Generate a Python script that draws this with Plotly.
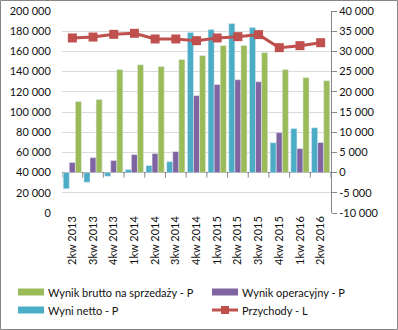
import plotly.graph_objects as go

categories = ["2kw 2013", "3kw 2013", "4kw 2013", "1kw 2014", "2kw 2014", "3kw 2014",
              "4kw 2014", "1kw 2015", "2kw 2015", "3kw 2015", "4kw 2015", "1kw 2016", "2kw 2016"]
netto = [-4000, -2400, -900, 750, 1750, 2700, 34700, 35400, 36900, 35900, 7400, 10900, 11100]
operacyjny = [2500, 3700, 3000, 4450, 4700, 5200, 19050, 21800, 23000, 22500, 9900, 5950, 7450]
brutto = [17600, 18100, 25500, 26700, 26250, 28000, 28950, 31450, 31450, 29700, 25500, 23500, 22750]
przychody = [173300, 174200, 176900, 177900, 172300, 172300, 170600, 173300, 174600, 176600, 163700, 165700, 168600]

series_names = ["Wynik brutto na sprzedaży - P", "Wynik operacyjny - P", "Wyni netto - P", "Przychody - L"]

left_ticks = list(range(0, 200001, 20000))
right_ticks = list(range(-10000, 40001, 5000))


def fmt(v):
    s = f"{abs(v):,}".replace(",", " ")
    return ("-" if v < 0 else "") + s


FONT = "Lato"
TXT = "#111111"
C_GREEN, C_PURPLE, C_CYAN, C_RED = "#9BBB59", "#8064A2", "#4BACC6", "#C0504D"

L, R, T, B = 62, 67, 11, 117
W, H = 398, 330
pw, ph = W - L - R, H - T - B


def px_x(p):
    return (p - L) / pw


def px_y(p):
    return (H - B - p) / ph


fig = go.Figure()
fig.add_trace(go.Bar(x=categories, y=netto, name=series_names[2], marker_color=C_CYAN, yaxis="y"))
fig.add_trace(go.Bar(x=categories, y=operacyjny, name=series_names[1], marker_color=C_PURPLE, yaxis="y"))
fig.add_trace(go.Bar(x=categories, y=brutto, name=series_names[0], marker_color=C_GREEN, yaxis="y"))
fig.add_trace(go.Scatter(x=categories, y=przychody, name=series_names[3], yaxis="y2",
                         mode="lines+markers", line=dict(color=C_RED, width=3),
                         marker=dict(symbol="square", size=9, color=C_RED)))

shapes = []
annotations = []
for i in range(len(categories) + 1):
    shapes.append(dict(type="line", xref="x", yref="y", x0=i - 0.5, x1=i - 0.5,
                       ysizemode="pixel", yanchor=0, y0=0, y1=-5,
                       line=dict(color="#868686", width=1)))

# chart border
shapes.append(dict(type="rect", xref="paper", yref="paper",
                   x0=px_x(0.5), x1=px_x(W - 0.5),
                   y0=px_y(H - 0.5), y1=px_y(0.5),
                   line=dict(color="#868686", width=1), layer="below"))

# custom legend (2 x 2)
legend_items = [
    (series_names[0], C_GREEN, "bar", 18, 292),
    (series_names[1], C_PURPLE, "bar", 212, 292),
    (series_names[2], C_CYAN, "bar", 18, 310),
    (series_names[3], C_RED, "line", 212, 310),
]
for name, col, kind, lx, ly in legend_items:
    if kind == "bar":
        shapes.append(dict(type="rect", xref="paper", yref="paper",
                           x0=px_x(lx), x1=px_x(lx + 26), y0=px_y(ly + 3.5), y1=px_y(ly - 3.5),
                           fillcolor=col, line=dict(width=0)))
    else:
        shapes.append(dict(type="line", xref="paper", yref="paper",
                           x0=px_x(lx), x1=px_x(lx + 26), y0=px_y(ly), y1=px_y(ly),
                           line=dict(color=col, width=3)))
        shapes.append(dict(type="rect", xref="paper", yref="paper",
                           x0=px_x(lx + 9), x1=px_x(lx + 17), y0=px_y(ly + 4), y1=px_y(ly - 4),
                           fillcolor=col, line=dict(width=0)))
    annotations.append(dict(xref="paper", yref="paper", x=px_x(lx + 28), y=px_y(ly),
                            xanchor="left", yanchor="middle", showarrow=False, text=name,
                            font=dict(size=11, color=TXT, family=FONT)))

fig.update_layout(
    width=W, height=H,
    margin=dict(l=L, r=R, t=T, b=B),
    paper_bgcolor="white", plot_bgcolor="white",
    barmode="group", bargap=0.12, bargroupgap=0,
    font=dict(family=FONT, size=11, color=TXT),
    showlegend=False,
    xaxis=dict(showline=False, ticks="", tickangle=-90, showgrid=False, automargin=False,
               tickfont=dict(size=11, color=TXT), range=[-0.5, len(categories) - 0.5]),
    yaxis=dict(side="right", range=[-10000, 40000], tickvals=right_ticks, automargin=False,
               ticktext=[fmt(v) for v in right_ticks], showgrid=True, gridcolor="#D9D9D9",
               showline=True, linecolor="#868686", ticks="outside", ticklen=5, tickcolor="#868686",
               zeroline=True, zerolinecolor="#868686", zerolinewidth=1,
               tickfont=dict(size=11, color=TXT)),
    yaxis2=dict(side="left", overlaying="y", range=[0, 200000], tickvals=left_ticks, automargin=False,
                ticktext=[fmt(v) for v in left_ticks], showgrid=False, showline=False,
                zeroline=False, ticks="outside", ticklen=8, tickcolor="rgba(0,0,0,0)",
                tickfont=dict(size=11, color=TXT)),
    shapes=shapes,
    annotations=annotations,
)

fig.write_html("out.html")
